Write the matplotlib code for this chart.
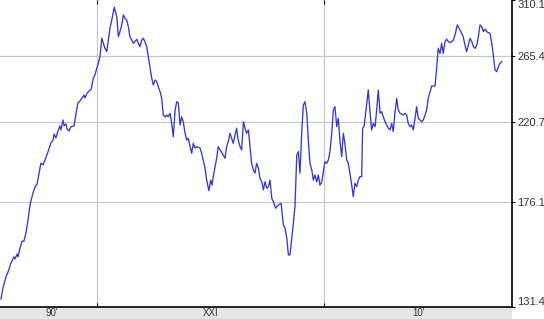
import matplotlib
matplotlib.use("Agg")
import matplotlib.pyplot as plt
from matplotlib.patches import Rectangle
from matplotlib.ticker import NullLocator

# ---- data (decimal year, index value) ----
years = [
    1995.77, 1995.86, 1995.99, 1996.08, 1996.21, 1996.34, 1996.39, 1996.48, 1996.52, 1996.61,
    1996.70, 1996.78, 1996.87, 1996.96, 1997.05, 1997.09, 1997.18, 1997.27, 1997.36, 1997.45,
    1997.53, 1997.62, 1997.71, 1997.84, 1997.97, 1998.06, 1998.11, 1998.19, 1998.28, 1998.37,
    1998.41, 1998.50, 1998.55, 1998.63, 1998.68, 1998.77, 1998.85, 1998.99, 1999.08, 1999.16,
    1999.25, 1999.34, 1999.43, 1999.47, 1999.56, 1999.65,
    1999.74, 1999.84, 1999.91, 1999.99, 2000.06, 2000.13, 2000.21, 2000.28, 2000.35, 2000.43,
    2000.50, 2000.57, 2000.65, 2000.76, 2000.87, 2000.94, 2001.01, 2001.09, 2001.16, 2001.23,
    2001.31, 2001.38, 2001.45, 2001.53, 2001.60, 2001.67, 2001.75, 2001.82, 2001.89, 2001.97,
    2002.04, 2002.11, 2002.19, 2002.26, 2002.33, 2002.41, 2002.48, 2002.56, 2002.63, 2002.70,
    2002.78, 2002.85, 2002.92, 2003.00, 2003.07, 2003.14, 2003.22, 2003.29, 2003.36, 2003.44,
    2003.51, 2003.58, 2003.66, 2003.73, 2003.80, 2003.88, 2003.95, 2004.02, 2004.10, 2004.17,
    2004.24, 2004.32, 2004.39, 2004.54, 2004.61, 2004.68, 2004.76, 2004.83, 2004.93, 2005.01,
    2005.07, 2005.12, 2005.27, 2005.34, 2005.42, 2005.56, 2005.64, 2005.71, 2005.78, 2005.86,
    2005.93, 2006.00, 2006.08, 2006.15, 2006.22, 2006.30, 2006.37, 2006.45, 2006.52, 2006.59,
    2006.67, 2006.74, 2006.81, 2006.89, 2006.96, 2007.03, 2007.11, 2007.18, 2007.26, 2007.33,
    2007.40, 2007.48, 2007.55, 2007.62, 2007.70, 2007.77, 2007.87, 2007.99, 2008.11, 2008.21,
    2008.28, 2008.36, 2008.43, 2008.50, 2008.58, 2008.65, 2008.72, 2008.80, 2008.87, 2008.94,
    2009.02, 2009.09, 2009.16, 2009.24, 2009.31, 2009.38, 2009.46, 2009.53, 2009.60, 2009.68,
    2009.75, 2009.82, 2009.90, 2009.97, 2010.04, 2010.12, 2010.19, 2010.26, 2010.34, 2010.41,
    2010.48, 2010.56, 2010.63, 2010.70, 2010.78, 2010.85, 2010.92, 2011.00, 2011.07, 2011.14,
    2011.22, 2011.29, 2011.36, 2011.44, 2011.51, 2011.58, 2011.66, 2011.70, 2011.76, 2011.85,
    2011.95, 2012.03, 2012.10, 2012.17, 2012.25, 2012.32, 2012.39, 2012.47, 2012.54, 2012.61,
    2012.69, 2012.76, 2012.83, 2012.91, 2012.98, 2013.05, 2013.13, 2013.20, 2013.27, 2013.35,
    2013.49, 2013.57, 2013.64, 2013.71, 2013.79, 2013.86, 2013.93, 2014.01, 2014.08, 2014.15,
    2014.23, 2014.30, 2014.37, 2014.45, 2014.52, 2014.59, 2014.67, 2014.74, 2014.89, 2014.96,
    2015.03, 2015.11, 2015.18, 2015.25, 2015.33, 2015.40, 2015.48, 2015.55, 2015.62, 2015.70,
    2015.77, 2015.87, 2015.99, 2016.06, 2016.13, 2016.21, 2016.28, 2016.36, 2016.43, 2016.51,
    2016.58, 2016.65, 2016.73, 2016.80, 2016.87, 2016.95, 2017.02, 2017.09, 2017.17, 2017.24,
    2017.31, 2017.39, 2017.46, 2017.53, 2017.61, 2017.68, 2017.75, 2017.83,
]
values = [
    134.4, 138.6, 142.9, 144.9, 148.6, 151.2, 150.3, 152.4, 151.2, 155.0,
    158.0, 158.0, 161.6, 167.6, 174.8, 176.7, 180.8, 183.8, 185.3, 191.2,
    196.5, 195.5, 198.2, 202.8, 207.9, 209.6, 213.2, 210.8, 215.0, 218.1,
    215.6, 221.7, 218.1, 219.3, 216.2, 215.0, 217.5, 218.1, 226.1, 232.5,
    233.8, 235.7, 237.7, 235.7, 239.0, 240.4,
    241.6, 249.2, 251.5, 256.2, 259.8, 264.6, 278.6, 274.7, 270.9, 268.4,
    277.3, 286.5, 293.2, 303.9, 296.0, 279.9, 283.8, 289.2, 297.4, 294.6,
    293.2, 287.8, 279.9, 277.3, 274.7, 276.0, 277.9, 274.7, 272.1, 277.3,
    278.6, 276.0, 272.1, 264.6, 257.3, 249.2, 244.5, 248.0, 246.8, 243.4,
    239.9, 235.5, 224.8, 223.7, 224.8, 223.7, 225.9, 219.6, 211.6, 228.0,
    233.3, 232.5, 218.6, 223.7, 220.6, 213.6, 209.6, 210.6, 205.8, 202.0,
    207.7, 204.9, 205.8, 204.9, 202.0, 198.2, 193.7, 187.4, 181.9, 187.4,
    184.8, 189.2, 199.2, 205.8, 203.9, 201.0, 199.2, 205.8, 208.6, 213.6,
    210.6, 207.7, 212.6, 216.7, 209.6, 205.8, 203.9, 220.6, 216.7, 213.6,
    215.6, 205.8, 196.4, 192.8, 191.1, 196.4, 193.7, 188.3, 186.5, 182.3,
    186.5, 183.1, 184.0, 187.4, 178.0, 176.3, 173.2, 174.8, 175.6, 165.3,
    163.8, 159.3, 152.0, 152.0, 159.3, 166.1, 174.0, 201.0, 202.9, 191.1,
    214.6, 231.2, 233.3, 225.9, 209.6, 196.4, 192.8, 187.4, 190.1, 186.5,
    190.1, 184.8, 186.5, 191.9, 197.3, 196.4, 198.2, 202.9, 213.6, 228.0,
    230.1, 217.6, 222.8, 209.6, 200.1, 213.6, 207.7, 198.2, 196.4, 191.1,
    184.8, 178.9, 185.7, 184.0, 187.4, 189.2, 189.2, 216.7, 217.6, 228.0,
    241.1, 225.9, 215.6, 219.6, 217.6, 228.0, 241.1, 225.9, 226.9, 223.7,
    220.6, 218.6, 216.7, 215.6, 219.6, 214.6, 226.9, 235.5, 228.0, 225.9,
    224.8, 225.9, 224.8, 219.6, 217.6, 218.6, 215.6, 222.8, 230.1, 222.8,
    221.7, 220.6, 221.7, 224.8, 228.0, 235.5, 239.9, 243.8, 243.8, 256.2,
    270.9, 267.0, 274.7, 267.0, 276.0, 277.9, 276.0, 275.2, 276.0, 277.3,
    281.2, 289.2, 285.2, 282.6, 279.9, 273.4, 268.4, 273.4, 278.6, 276.0,
    272.1, 270.9, 273.4, 279.9, 289.2, 287.8, 283.8, 285.8, 283.8, 283.0,
    282.6, 274.7, 265.4, 255.0, 253.8, 257.3, 259.8, 261.0,
]

y_ticks = [131.4, 176.1, 220.7, 265.4, 310.1]
y_tick_labels = ["131.4", "176.1", "220.7", "265.4", "310.1"]
decade_bounds = [2000, 2010]
decade_label_pos = [1998.0, 2005.0, 2014.15]
decade_labels = ["90'", "XXI", "10'"]
x_range = (1995.727, 2018.28)

plt.rcParams['font.family'] = ['Liberation Sans', 'DejaVu Sans']

W, H = 544, 319
fig = plt.figure(figsize=(W / 100, H / 100), dpi=100)

ax_l, ax_r, ax_b, ax_t = 0, 512, 307, 0  # pixel box
ax = fig.add_axes([ax_l / W, (H - ax_b) / H, (ax_r - ax_l) / W, (ax_b - ax_t) / H])

# grey strip under the axes (drawn behind everything)
strip = Rectangle((0, 0), ax_r / W, (H - ax_b) / H, transform=fig.transFigure,
                  facecolor="#e6e6e6", edgecolor="none", zorder=-10)
fig.add_artist(strip)
ax.set_zorder(1)
ax.patch.set_alpha(0)

ax.set_yscale('log')
ax.set_xlim(*x_range)
ax.set_ylim(y_ticks[0], y_ticks[-1])

for v in y_ticks[1:-1]:
    ax.axhline(v, color="#c8c8c8", lw=0.9, zorder=1)
for d in decade_bounds:
    ax.axvline(d, color="#c8c8c8", lw=0.9, zorder=1)

ax.plot(years, values, color="#3838cc", lw=0.95, zorder=3)

for s in ["left", "top"]:
    ax.spines[s].set_visible(False)
ax.spines["bottom"].set_color("black")
ax.spines["right"].set_color("black")
ax.spines["bottom"].set_linewidth(1.2)
ax.spines["right"].set_linewidth(1.2)

ax.yaxis.set_minor_locator(NullLocator())
ax.yaxis.tick_right()
ax.set_yticks(y_ticks, y_tick_labels)
ax.tick_params(axis='y', which='major', direction='out', length=2.5, width=0.8,
               labelsize=8, labelcolor="#333333", pad=1.5, left=False, right=True)
labs = ax.get_yticklabels()
labs[0].set_verticalalignment('bottom')
labs[-1].set_verticalalignment('top')

ax.set_xticks(decade_bounds, ["", ""])
ax.tick_params(axis='x', which='major', direction='in', length=3, width=0.8,
               top=True, bottom=True)
ax.set_xticks(decade_label_pos, decade_labels, minor=True)
ax.tick_params(axis='x', which='minor', length=0, labelsize=7, labelcolor="#333333",
               pad=1.0, bottom=True, labelbottom=True)

fig.savefig("out.png", dpi=100, facecolor="white")
